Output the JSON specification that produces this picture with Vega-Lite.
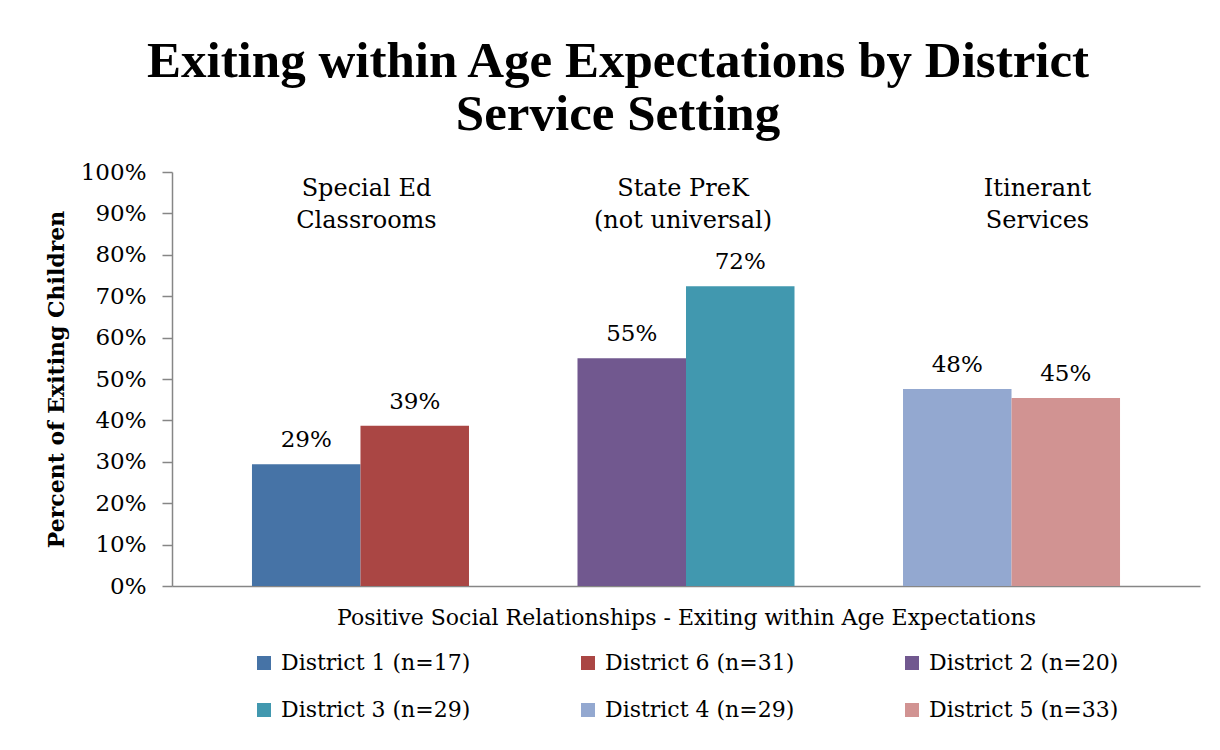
{
  "$schema": "https://vega.github.io/schema/vega-lite/v6.json",
  "width": 1028,
  "height": 414,
  "autosize": {"type": "none"},
  "padding": {"left": 172, "top": 172, "right": 20, "bottom": 164},
  "background": "white",
  "title": {
    "text": ["Exiting within Age Expectations by District", "Service Setting"],
    "font": "Liberation Serif",
    "fontSize": 51,
    "fontWeight": "bold",
    "color": "black",
    "lineHeight": 53,
    "offset": 20,
    "anchor": "middle",
    "dx": -68
  },
  "config": {
    "view": {"stroke": null},
    "font": "DejaVu Serif"
  },
  "datasets": {
    "bars": [
      {"district": "District 1 (n=17)", "setting": "Special Ed Classrooms", "value": 0.294},
      {"district": "District 6 (n=31)", "setting": "Special Ed Classrooms", "value": 0.387},
      {"district": "District 2 (n=20)", "setting": "State PreK (not universal)", "value": 0.55},
      {"district": "District 3 (n=29)", "setting": "State PreK (not universal)", "value": 0.724},
      {"district": "District 4 (n=29)", "setting": "Itinerant Services", "value": 0.476},
      {"district": "District 5 (n=33)", "setting": "Itinerant Services", "value": 0.454}
    ],
    "groups": [
      {"label": "Special Ed|Classrooms", "anchor": "District 1 (n=17)", "key": "a"},
      {"label": "State PreK|(not universal)", "anchor": "District 2 (n=20)", "key": "b"},
      {"label": "Itinerant|Services", "anchor": "District 4 (n=29)", "key": "c"}
    ]
  },
  "layer": [
    {
      "data": {"name": "bars"},
      "mark": {"type": "bar"},
      "encoding": {
        "x": {
          "field": "district",
          "type": "nominal",
          "scale": {
            "domain": ["District 1 (n=17)", "District 6 (n=31)", "gap A", "District 2 (n=20)", "District 3 (n=29)", "gap B", "District 4 (n=29)", "District 5 (n=33)"],
            "paddingInner": 0,
            "paddingOuter": 0.737
          },
          "axis": {
            "labels": false,
            "ticks": false,
            "domainColor": "#868686",
            "domainWidth": 1.5,
            "title": "Positive Social Relationships - Exiting within Age Expectations",
            "titleFont": "DejaVu Serif",
            "titleFontSize": 22,
            "titleFontWeight": "normal",
            "titleColor": "black",
            "titlePadding": 21
          }
        },
        "y": {
          "field": "value",
          "type": "quantitative",
          "scale": {"domain": [0, 1]},
          "axis": {
            "values": [0, 0.1, 0.2, 0.3, 0.4, 0.5, 0.6, 0.7, 0.8, 0.9, 1],
            "format": ".0%",
            "grid": false,
            "domainColor": "#868686",
            "domainWidth": 1.5,
            "tickColor": "#868686",
            "tickWidth": 1.5,
            "tickSize": 10,
            "labelPadding": 16,
            "labelFont": "DejaVu Serif",
            "labelFontSize": 23,
            "labelColor": "black",
            "title": "Percent of Exiting Children",
            "titleFont": "DejaVu Serif",
            "titleFontSize": 22,
            "titleFontWeight": "bold",
            "titleColor": "black",
            "titlePadding": 12
          }
        },
        "color": {
          "field": "district",
          "type": "nominal",
          "scale": {
            "domain": ["District 1 (n=17)", "District 6 (n=31)", "District 2 (n=20)", "District 3 (n=29)", "District 4 (n=29)", "District 5 (n=33)"],
            "range": ["#4673A6", "#AA4644", "#71588F", "#4198AF", "#93A8D0", "#D19392"]
          },
          "legend": {
            "title": null,
            "orient": "none",
            "legendX": 81,
            "legendY": 480,
            "direction": "horizontal",
            "columns": 3,
            "gridAlign": "all",
            "columnPadding": 106,
            "rowPadding": 25,
            "symbolType": "square",
            "symbolSize": 196,
            "symbolStrokeWidth": 0,
            "labelOffset": 6,
            "labelFont": "DejaVu Serif",
            "labelFontSize": 22,
            "labelColor": "black",
            "labelLimit": 400
          }
        }
      }
    },
    {
      "data": {"name": "bars"},
      "mark": {"type": "text", "font": "DejaVu Serif", "fontSize": 23, "color": "black", "baseline": "alphabetic", "dy": -17},
      "encoding": {
        "x": {"field": "district", "type": "nominal"},
        "y": {"field": "value", "type": "quantitative"},
        "text": {"field": "value", "type": "quantitative", "format": ".0%"}
      }
    },
    {
      "data": {"name": "groups"},
      "transform": [{"filter": "datum.key == 'a'"}],
      "mark": {"type": "text", "font": "DejaVu Serif", "fontSize": 24, "color": "black", "baseline": "top", "align": "center", "lineBreak": "|", "lineHeight": 32, "dy": 5, "dx": 6},
      "encoding": {
        "x": {"field": "anchor", "type": "nominal", "bandPosition": 1},
        "y": {"datum": 1, "type": "quantitative"},
        "text": {"field": "label"}
      }
    },
    {
      "data": {"name": "groups"},
      "transform": [{"filter": "datum.key == 'b'"}],
      "mark": {"type": "text", "font": "DejaVu Serif", "fontSize": 24, "color": "black", "baseline": "top", "align": "center", "lineBreak": "|", "lineHeight": 32, "dy": 5, "dx": -3},
      "encoding": {
        "x": {"field": "anchor", "type": "nominal", "bandPosition": 1},
        "y": {"datum": 1, "type": "quantitative"},
        "text": {"field": "label"}
      }
    },
    {
      "data": {"name": "groups"},
      "transform": [{"filter": "datum.key == 'c'"}],
      "mark": {"type": "text", "font": "DejaVu Serif", "fontSize": 24, "color": "black", "baseline": "top", "align": "center", "lineBreak": "|", "lineHeight": 32, "dy": 5, "dx": 26},
      "encoding": {
        "x": {"field": "anchor", "type": "nominal", "bandPosition": 1},
        "y": {"datum": 1, "type": "quantitative"},
        "text": {"field": "label"}
      }
    }
  ]
}
